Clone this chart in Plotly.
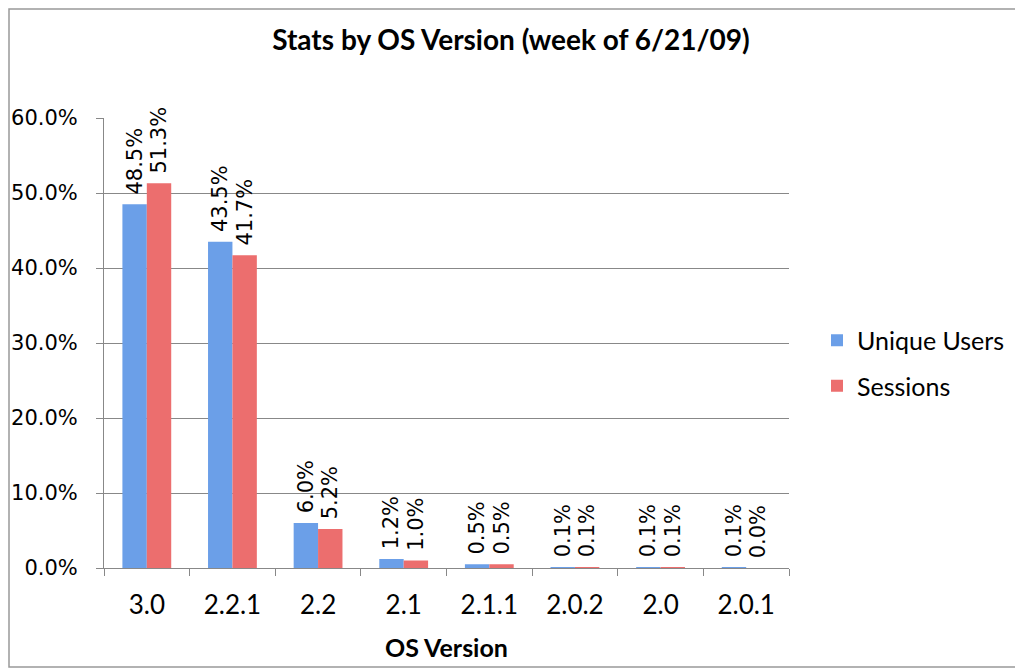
import plotly.graph_objects as go

versions = ["3.0", "2.2.1", "2.2", "2.1", "2.1.1", "2.0.2", "2.0", "2.0.1"]
unique_users = [48.5, 43.5, 6.0, 1.2, 0.5, 0.1, 0.1, 0.1]
sessions = [51.3, 41.7, 5.2, 1.0, 0.5, 0.1, 0.1, 0.0]
y_ticks = [0, 10, 20, 30, 40, 50, 60]

# the page has an 8px body margin, so the figure is drawn 8px smaller and shifted
OFF = 8
W, H = 1023 - OFF, 670 - OFF
L, T = 104 - OFF, 118 - OFF
pw, ph = 685, 450
R, B = W - L - pw, H - T - ph


def px_x(x):
    return (x - OFF - L) / pw


def px_y(y):
    return (H - B - (y - OFF)) / ph


label_font = dict(family="DejaVu Sans", size=21, color="black")

fig = go.Figure()
fig.add_trace(go.Bar(
    x=versions, y=unique_users, name="Unique Users", legendgroup="u",
    marker=dict(color="#6B9FE8", line=dict(width=0)),
    text=["\u00a0%.1f%%" % v for v in unique_users],
    textposition="outside", textangle=-90, textfont=label_font,
    cliponaxis=False, constraintext="none",
))
fig.add_trace(go.Bar(
    x=versions, y=sessions, name="Sessions", legendgroup="s",
    marker=dict(color="#EC6E6E", line=dict(width=0)),
    text=["\u00a0%.1f%%" % v for v in sessions],
    textposition="outside", textangle=-90, textfont=label_font,
    cliponaxis=False, constraintext="none",
))

fig.update_layout(
    width=W, height=H,
    margin=dict(l=L, r=R, t=T, b=B, autoexpand=False),
    paper_bgcolor="white", plot_bgcolor="white",
    barmode="group", bargap=0.43, bargroupgap=0,
    font=dict(family="Lato", size=20, color="black"),
    title=dict(
        text="<b>Stats by OS Version (week of 6/21/09)</b>",
        x=px_x(511), xref="paper", xanchor="center",
        y=1 - (40 - OFF) / H, yanchor="middle",
        font=dict(family="Lato", size=28),
    ),
    xaxis=dict(
        title=dict(text="<b>OS Version</b>", standoff=20, font=dict(size=25)),
        showgrid=False, showline=True, linecolor="#888888", linewidth=1,
        ticks="outside", tickson="boundaries", ticklen=7, tickcolor="#888888",
        tickfont=dict(size=26), ticklabelstandoff=14,
    ),
    yaxis=dict(
        range=[0, 60], tickvals=y_ticks,
        ticktext=["%.1f%%" % v for v in y_ticks],
        showgrid=True, gridcolor="#888888", gridwidth=1,
        showline=True, linecolor="#888888", linewidth=1,
        ticks="outside", ticklen=7, tickcolor="#888888",
        zeroline=False, ticklabelstandoff=14,
        tickfont=dict(family="DejaVu Sans", size=21),
    ),
    legend=dict(
        x=px_x(817), xanchor="left", y=px_y(363), yanchor="middle",
        font=dict(size=25), bgcolor="rgba(0,0,0,0)", tracegroupgap=10,
    ),
    shapes=[dict(
        type="rect", xref="paper", yref="paper",
        x0=px_x(OFF + 1), x1=px_x(1018),
        y0=px_y(667), y1=px_y(OFF + 1),
        line=dict(color="#999999", width=1.5), layer="below",
    )],
)

fig.write_html("out.html")
